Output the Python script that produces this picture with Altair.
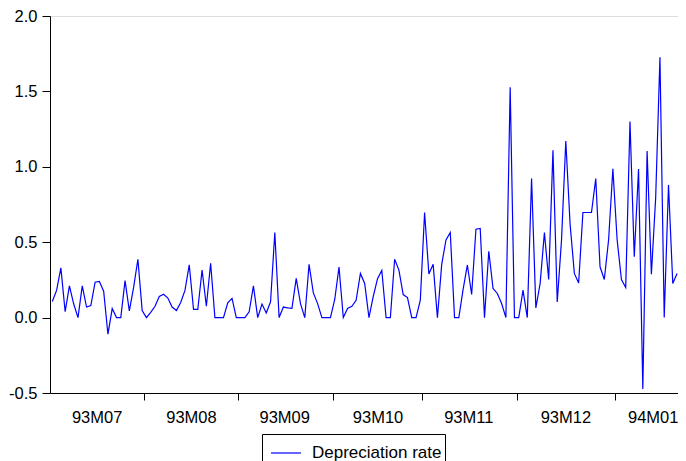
import json
import altair as alt
import pandas as pd

# Daily (business-day) depreciation rate, 1993-07-01 .. 1994-01-21
values = [
    0.107, 0.18, 0.33, 0.04, 0.21, 0.09, 0.0, 0.21, 0.07, 0.08,
    0.235, 0.24, 0.175, -0.11, 0.06, 0.0, 0.0, 0.245, 0.045, 0.2,
    0.387, 0.047, 0.0, 0.035, 0.075, 0.14, 0.155, 0.13, 0.07, 0.047,
    0.10, 0.18, 0.35, 0.055, 0.055, 0.316, 0.075, 0.36, 0.0, 0.0,
    0.0, 0.098, 0.127, 0.0, 0.0, 0.0, 0.038, 0.21, 0.0, 0.09,
    0.03, 0.105, 0.564, 0.0, 0.07, 0.065, 0.062, 0.26, 0.093, 0.0,
    0.353, 0.164, 0.093, 0.0, 0.0, 0.0, 0.12, 0.335, 0.0, 0.06,
    0.075, 0.115, 0.293, 0.226, 0.0, 0.14, 0.258, 0.313, 0.0, 0.0,
    0.387, 0.315, 0.153, 0.133, 0.0, 0.0, 0.115, 0.697, 0.289, 0.353,
    0.0, 0.353, 0.515, 0.564, 0.0, 0.0, 0.187, 0.349, 0.153, 0.586,
    0.591, 0.0, 0.44, 0.193, 0.16, 0.093, 0.0, 1.527, 0.0, 0.0,
    0.182, 0.0, 0.922, 0.064, 0.226, 0.564, 0.253, 1.109, 0.104, 0.515,
    1.171, 0.62, 0.293, 0.23, 0.697, 0.697, 0.697, 0.922, 0.337, 0.253,
    0.515, 0.986, 0.515, 0.253, 0.2, 1.3, 0.404, 0.986, -0.474, 1.104,
    0.287, 0.793, 1.726, 0.0, 0.88, 0.226, 0.293,
]
series_name = "Depreciation rate"

# month boundaries (observation index) and label positions
month_boundaries = [21.5, 43.5, 65.5, 86.5, 108.5, 131.5]
month_labels = ["93M07", "93M08", "93M09", "93M10", "93M11", "93M12", "94M01"]
month_label_pos = [10.35, 32.4, 54.2, 76.0, 97.2, 119.9, 140.3]
y_ticks = [-0.5, 0.0, 0.5, 1.0, 1.5, 2.0]

df = pd.DataFrame({
    "obs": list(range(len(values))),
    "rate": values,
    "series": [series_name] * len(values),
})

FONT = "Arial, Liberation Sans"

label_expr = (
    f"indexof({json.dumps(month_label_pos)}, datum.value) >= 0 ? "
    f"{json.dumps(month_labels)}[indexof({json.dumps(month_label_pos)}, datum.value)] : ''"
)
tick_cond = {
    "condition": {"test": f"indexof({json.dumps(month_boundaries)}, datum.value) >= 0", "value": 1},
    "value": 0,
}

chart = alt.Chart(df).mark_line(strokeWidth=1.2, clip=True).encode(
    x=alt.X(
        "obs:Q",
        scale=alt.Scale(domain=[-0.54, 146.22], nice=False, zero=False),
        axis=alt.Axis(
            values=month_boundaries + month_label_pos,
            labelExpr=label_expr,
            tickOpacity=tick_cond,
            tickSize=7,
            tickColor="black",
            domainColor="black",
            labelFontSize=16.5,
            labelFont=FONT,
            labelColor="black",
            labelPadding=9,
            labelOverlap=False,
            labelFlush=False,
            labelBound=False,
            grid=False,
            title=None,
        ),
    ),
    y=alt.Y(
        "rate:Q",
        scale=alt.Scale(domain=[-0.5, 2.0], nice=False, zero=False),
        axis=alt.Axis(
            values=y_ticks,
            labelExpr="datum.value < 0 ? '-' + format(-datum.value, '.1f') : format(datum.value, '.1f')",
            tickSize=8,
            tickColor="black",
            domainColor="black",
            labelFontSize=16.5,
            labelFont=FONT,
            labelColor="black",
            labelPadding=5,
            grid=False,
            title=None,
        ),
    ),
    color=alt.Color(
        "series:N",
        scale=alt.Scale(range=["#0000ff"]),
        legend=alt.Legend(
            title=None,
            orient="none",
            legendX=212,
            legendY=418,
            strokeColor="black",
            fillColor="white",
            padding=3,
            symbolOffset=5,
            symbolType="stroke",
            symbolSize=900,
            symbolStrokeWidth=1.2,
            labelOffset=10,
            labelFontSize=17,
            labelFont=FONT,
            labelColor="black",
            labelLimit=400,
        ),
    ),
).properties(
    width=628,
    height=377,
    autosize=alt.AutoSizeParams(type="none"),
    padding={"left": 42, "top": 8, "right": 0, "bottom": 70},
).configure_view(
    stroke="black",
    strokeWidth=1,
).configure(
    background="white",
)

chart.save("out.html", embed_options={"renderer": "svg", "actions": False})
